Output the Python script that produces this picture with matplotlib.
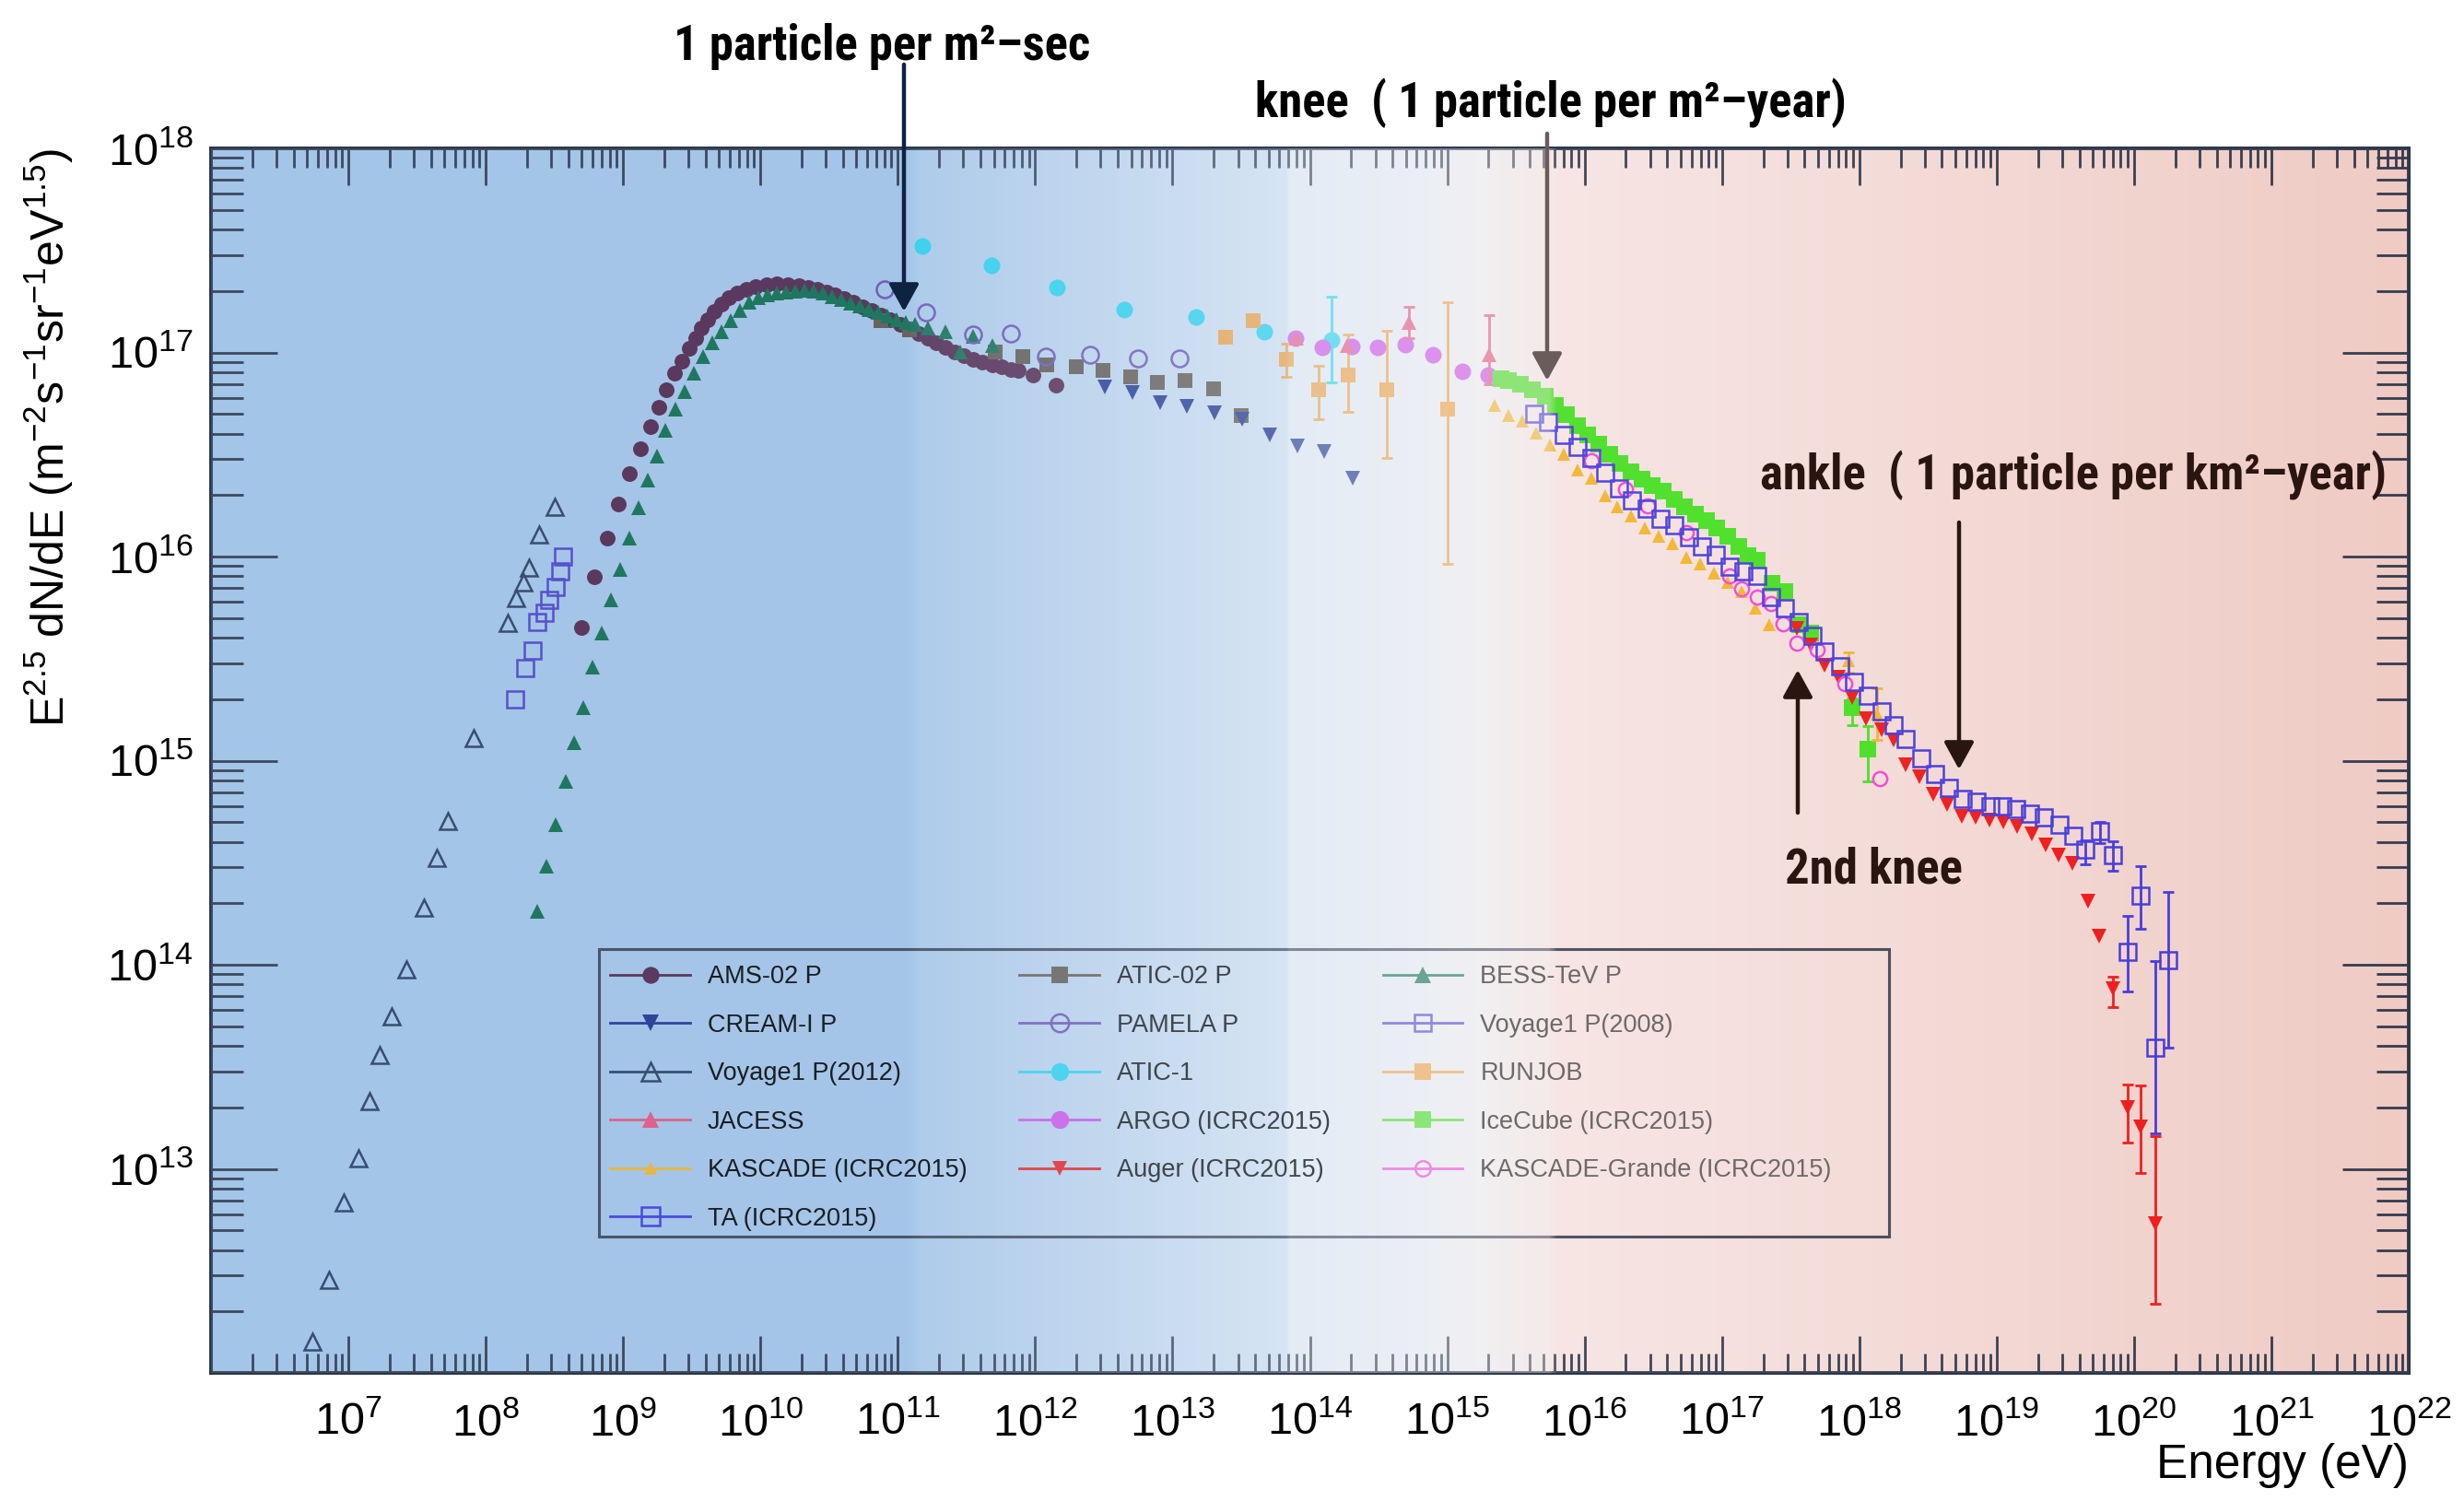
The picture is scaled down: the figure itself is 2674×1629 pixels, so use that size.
import numpy as np
import matplotlib
matplotlib.use('Agg')
import matplotlib.pyplot as plt
from matplotlib import font_manager
from matplotlib.lines import Line2D
from matplotlib.patches import FancyArrowPatch, Rectangle
from matplotlib.ticker import FixedLocator, FuncFormatter, NullFormatter

nan = np.nan

# values: log10(E / eV) and log10(E^2.5 dN/dE)
ams_e = [8.699, 8.792, 8.888, 8.966, 9.046, 9.124, 9.199, 9.259, 9.315, 9.375, 9.431, 9.483, 9.527,
         9.572, 9.617, 9.662, 9.718, 9.773, 9.829, 9.896, 9.963, 10.042, 10.120, 10.198, 10.277,
         10.344, 10.411, 10.478, 10.545, 10.612, 10.679, 10.746, 10.813, 10.880, 10.947, 11.015,
         11.082, 11.149, 11.216, 11.283, 11.350, 11.417, 11.484, 11.551, 11.618, 11.686, 11.753,
         11.820, 11.876, 11.987, 12.155]
ams_f = [15.651, 15.901, 16.091, 16.259, 16.405, 16.528, 16.638, 16.733, 16.816, 16.898, 16.959,
         17.019, 17.072, 17.120, 17.162, 17.200, 17.237, 17.267, 17.290, 17.309, 17.323, 17.332,
         17.335, 17.332, 17.327, 17.320, 17.309, 17.297, 17.282, 17.264, 17.245, 17.225, 17.204,
         17.184, 17.162, 17.139, 17.117, 17.094, 17.072, 17.049, 17.026, 17.004, 16.984, 16.966,
         16.951, 16.939, 16.929, 16.918, 16.914, 16.888, 16.841]

atic2_e = [10.880, 11.082, 11.708, 11.909, 12.088, 12.300, 12.491, 12.692, 12.893, 13.094, 13.296, 13.497]
atic2_f = [17.154, 17.109, 17.004, 16.981, 16.941, 16.932, 16.914, 16.879, 16.853, 16.861, 16.823, 16.691]

bess_e = [8.378, 8.443, 8.512, 8.580, 8.645, 8.710, 8.779, 8.844, 8.909, 8.981, 9.046, 9.111, 9.179,
          9.248, 9.310, 9.378, 9.445, 9.516, 9.583, 9.650, 9.717, 9.785, 9.852, 9.919, 9.986, 10.053,
          10.120, 10.187, 10.254, 10.321, 10.388, 10.455, 10.523, 10.590, 10.657, 10.724, 10.791,
          10.858, 10.925, 10.992, 11.059, 11.126, 11.216, 11.350, 11.451, 11.551, 11.686]
bess_f = [14.260, 14.485, 14.688, 14.900, 15.087, 15.258, 15.457, 15.625, 15.790, 15.939, 16.091,
          16.240, 16.373, 16.492, 16.620, 16.721, 16.808, 16.898, 16.981, 17.049, 17.102, 17.154,
          17.207, 17.245, 17.267, 17.282, 17.290, 17.297, 17.300, 17.305, 17.302, 17.290, 17.275,
          17.260, 17.242, 17.227, 17.210, 17.195, 17.177, 17.162, 17.147, 17.139, 17.120, 17.102,
          17.004, 17.079, 17.034]

cream_e = [12.506, 12.708, 12.909, 13.106, 13.307, 13.508, 13.709, 13.911, 14.107, 14.309]
cream_f = [16.830, 16.804, 16.755, 16.737, 16.703, 16.673, 16.597, 16.540, 16.515, 16.382]

pamela_e = [10.903, 11.205, 11.547, 11.824, 12.077, 12.399, 12.748, 13.050]
pamela_f = [17.309, 17.195, 17.090, 17.094, 16.981, 16.989, 16.969, 16.969]

voy08_e = [8.217, 8.289, 8.340, 8.378, 8.426, 8.463, 8.508, 8.542, 8.566]
voy08_f = [15.299, 15.454, 15.539, 15.679, 15.723, 15.787, 15.853, 15.926, 16.002]

voy12_e = [6.738, 6.858, 6.968, 7.074, 7.156, 7.231, 7.313, 7.423, 7.549, 7.645, 7.727, 7.912,
           8.162, 8.220, 8.275, 8.316, 8.391, 8.501]
voy12_f = [12.153, 12.454, 12.834, 13.050, 13.331, 13.556, 13.746, 13.978, 14.282, 14.523, 14.703,
           15.109, 15.676, 15.796, 15.875, 15.945, 16.107, 16.243]

atic1_e = [11.182, 11.681, 12.160, 12.650, 13.173, 13.665, 14.161]
atic1_f = [17.523, 17.425, 17.320, 17.212, 17.172, 17.102, 17.059]
atic1_lo = [nan, nan, nan, nan, nan, nan, 16.853]
atic1_hi = [nan, nan, nan, nan, nan, nan, 17.275]

runjob_e = [13.385, 13.587, 13.828, 14.067, 14.280, 14.559, 15.000]
runjob_f = [17.074, 17.157, 16.966, 16.816, 16.888, 16.816, 16.722]
runjob_lo = [nan, nan, 16.879, 16.673, 16.710, 16.485, 15.965]
runjob_hi = [nan, nan, 17.041, 16.936, 17.087, 17.105, 17.245]

jacee_e = [13.900, 14.275, 14.722, 15.308]
jacee_f = [17.071, 17.034, 17.147, 16.989]
jacee_lo = [nan, nan, 17.072, 16.846]
jacee_hi = [nan, nan, 17.222, 17.184]

argo_e = [13.895, 14.092, 14.307, 14.492, 14.693, 14.895, 15.107, 15.297]
argo_f = [17.068, 17.023, 17.029, 17.023, 17.039, 16.989, 16.906, 16.891]

ice_e = [15.390, 15.443, 15.532, 15.622, 15.711, 15.789, 15.868, 15.946, 16.024, 16.103, 16.181,
         16.259, 16.337, 16.416, 16.494, 16.572, 16.650, 16.729, 16.807, 16.885, 16.963, 17.042,
         17.120, 17.187, 17.254, 17.366, 17.455, 17.567, 17.646, 17.947, 18.059]
ice_f = [16.870, 16.861, 16.843, 16.816, 16.786, 16.740, 16.695, 16.643, 16.597, 16.552, 16.500,
         16.454, 16.417, 16.379, 16.349, 16.319, 16.281, 16.244, 16.206, 16.176, 16.138, 16.101,
         16.048, 16.003, 15.980, 15.868, 15.830, 15.664, 15.624, 15.258, 15.055]
ice_lo = [nan] * 29 + [15.175, 14.897]
ice_hi = [nan] * 29 + [15.303, 15.168]

kas_e = [15.342, 15.443, 15.543, 15.644, 15.745, 15.845, 15.946, 16.047, 16.147, 16.237, 16.337,
         16.438, 16.539, 16.639, 16.740, 16.840, 16.941, 17.042, 17.142, 17.243, 17.344, 17.920, 18.126]
kas_f = [16.740, 16.692, 16.662, 16.605, 16.545, 16.500, 16.424, 16.382, 16.297, 16.244, 16.199,
         16.138, 16.101, 16.063, 15.996, 15.965, 15.920, 15.875, 15.830, 15.747, 15.664, 15.491, 15.228]
kas_lo = [nan] * 21 + [15.431, 15.100]
kas_hi = [nan] * 21 + [15.529, 15.356]

auger_e = [17.545, 17.645, 17.746, 17.847, 17.947, 18.048, 18.160, 18.249, 18.339, 18.439, 18.540,
           18.641, 18.748, 18.849, 18.949, 19.050, 19.150, 19.256, 19.356, 19.452, 19.553, 19.665,
           19.743, 19.848, 19.956, 20.050, 20.157]
auger_f = [15.649, 15.567, 15.469, 15.409, 15.311, 15.206, 15.153, 15.100, 14.980, 14.920, 14.837,
           14.784, 14.727, 14.721, 14.709, 14.701, 14.679, 14.641, 14.589, 14.536, 14.495, 14.310,
           14.140, 13.881, 13.302, 13.204, 12.730]
auger_lo = [nan] * 23 + [13.794, 13.129, 12.978, 12.337]
auger_hi = [nan] * 23 + [13.941, 13.415, 13.407, 13.159]

kg_e = [16.047, 16.300, 16.460, 16.740, 17.053, 17.142, 17.254, 17.355, 17.444, 17.545, 17.690, 17.891, 18.149]
kg_f = [16.470, 16.330, 16.250, 16.116, 15.905, 15.840, 15.800, 15.770, 15.672, 15.574, 15.544, 15.379, 14.912]

ta_e = [15.633, 15.733, 15.845, 15.946, 16.047, 16.147, 16.248, 16.348, 16.449, 16.550, 16.650,
        16.762, 16.852, 16.952, 17.053, 17.154, 17.254, 17.355, 17.455, 17.556, 17.657, 17.746,
        17.858, 17.959, 18.059, 18.160, 18.249, 18.339, 18.451, 18.551, 18.652, 18.752, 18.853,
        18.954, 19.043, 19.144, 19.245, 19.345, 19.457, 19.558, 19.647, 19.752, 19.848, 19.956,
        20.050, 20.157, 20.251]
ta_f = [16.698, 16.658, 16.597, 16.537, 16.485, 16.409, 16.334, 16.274, 16.236, 16.184, 16.153,
        16.093, 16.048, 16.011, 15.950, 15.928, 15.905, 15.800, 15.747, 15.680, 15.612, 15.537,
        15.461, 15.386, 15.318, 15.243, 15.175, 15.108, 15.010, 14.935, 14.867, 14.814, 14.799,
        14.777, 14.777, 14.762, 14.739, 14.724, 14.686, 14.634, 14.566, 14.656, 14.536, 14.062,
        14.340, 13.592, 14.024]
ta_lo = [nan] * 40 + [14.491, 14.596, 14.461, 13.869, 14.175, 13.174, 13.592]
ta_hi = [nan] * 40 + [14.611, 14.701, 14.604, 14.239, 14.483, 14.017, 14.355]

# label, e, f, lo, hi, marker, color, filled, size  (drawing order)
series = [
    ('AMS-02 P', ams_e, ams_f, None, None, 'o', '#4f2046', True, 12.2),
    ('ATIC-02 P', atic2_e, atic2_f, None, None, 's', '#5e5348', True, 12),
    ('BESS-TeV P', bess_e, bess_f, None, None, '^', '#086a48', True, 12.2),
    ('CREAM-I P', cream_e, cream_f, None, None, 'v', '#1a2e8c', True, 12),
    ('PAMELA P', pamela_e, pamela_f, None, None, 'o', '#6a4cb0', False, 13),
    ('Voyage1 P(2008)', voy08_e, voy08_f, None, None, 's', '#4a3cc8', False, 12.5),
    ('Voyage1 P(2012)', voy12_e, voy12_f, None, None, '^', '#263a5a', False, 13.5),
    ('ATIC-1', atic1_e, atic1_f, atic1_lo, atic1_hi, 'o', '#22d4ee', True, 13),
    ('RUNJOB', runjob_e, runjob_f, runjob_lo, runjob_hi, 's', '#f0a040', True, 12),
    ('ARGO (ICRC2015)', argo_e, argo_f, None, None, 'o', '#d04ce8', True, 13),
    ('JACESS', jacee_e, jacee_f, jacee_lo, jacee_hi, '^', '#e8507c', True, 12),
    ('IceCube (ICRC2015)', ice_e, ice_f, ice_lo, ice_hi, 's', '#3ee01a', True, 12.5),
    ('KASCADE (ICRC2015)', kas_e, kas_f, kas_lo, kas_hi, '^', '#f2b424', True, 9.5),
    ('Auger (ICRC2015)', auger_e, auger_f, auger_lo, auger_hi, 'v', '#ee1111', True, 11),
    ('KASCADE-Grande (ICRC2015)', kg_e, kg_f, None, None, 'o', '#f040d8', False, 11),
    ('TA (ICRC2015)', ta_e, ta_f, ta_lo, ta_hi, 's', '#3c32dc', False, 13),
]
legend_cols = [['AMS-02 P', 'CREAM-I P', 'Voyage1 P(2012)', 'JACESS', 'KASCADE (ICRC2015)', 'TA (ICRC2015)'],
               ['ATIC-02 P', 'PAMELA P', 'ATIC-1', 'ARGO (ICRC2015)', 'Auger (ICRC2015)'],
               ['BESS-TeV P', 'Voyage1 P(2008)', 'RUNJOB', 'IceCube (ICRC2015)', 'KASCADE-Grande (ICRC2015)']]

# background band (axes fraction -> colour) and the tint laid over the plot
bg_stops = [0.0, 0.317, 0.323, 0.489, 0.491, 0.575, 0.609, 0.6126, 1.0]
bg_colors = [(163, 197, 231), (165, 198, 232), (175, 204, 235), (214, 228, 243), (226, 236, 246),
             (240, 240, 243), (244, 234, 233), (247, 230, 228), (239, 203, 196)]
ov_alpha = [0.15, 0.15, 0.22, 0.35, 0.42, 0.44, 0.45, 0.12, 0.06]


def pick_font(names):
    for name in names:
        try:
            font_manager.findfont(font_manager.FontProperties(family=name, weight='bold'),
                                  fallback_to_default=False)
            return name
        except ValueError:
            continue
    return 'Liberation Sans'


plt.rcParams['font.family'] = ['Liberation Sans', 'DejaVu Sans']
plt.rcParams['mathtext.fontset'] = 'custom'
plt.rcParams['mathtext.rm'] = 'Liberation Sans'
plt.rcParams['mathtext.it'] = 'Liberation Sans:italic'
plt.rcParams['mathtext.bf'] = 'Liberation Sans:bold'
cond_font = pick_font(['Roboto Condensed', 'Liberation Sans Narrow', 'Open Sans Condensed',
                       'DejaVu Sans Condensed', 'Noto Sans Condensed'])

W, H = 2674, 1629
L, R, T, B = 229, 2614, 161, 1490
fig = plt.figure(figsize=(W / 100, H / 100), dpi=100)
rect = [L / W, 1 - B / H, (R - L) / W, (B - T) / H]
bg = fig.add_axes(rect, zorder=0)
ax = fig.add_axes(rect, zorder=1)
ov = fig.add_axes(rect, zorder=2)

fx = np.linspace(0, 1, 1600)
rgb = np.stack([np.interp(fx, bg_stops, [c[i] for c in bg_colors]) for i in range(3)], axis=-1) / 255.0
bg.imshow(rgb[None, :, :], extent=(0, 1, 0, 1), aspect='auto', interpolation='bilinear')
bg.set_axis_off()
rgba = np.concatenate([rgb, np.interp(fx, bg_stops, ov_alpha)[:, None]], axis=-1)
ov.imshow(rgba[None, :, :], extent=(0, 1, 0, 1), aspect='auto', interpolation='bilinear')
ov.set_xlim(0, 1)
ov.set_ylim(0, 1)
ov.set_axis_off()
ov.patch.set_visible(False)
ax.patch.set_visible(False)


def tint(color, px):
    # colour as it looks under the overlay at picture column px
    f = (px - L) / (R - L)
    a = np.interp(f, bg_stops, ov_alpha)
    b = np.array([np.interp(f, bg_stops, [c[i] for c in bg_colors]) for i in range(3)]) / 255.0
    return tuple((1 - a) * np.array(matplotlib.colors.to_rgb(color)) + a * b)


styles = {}
for k, (label, e, f, lo, hi, marker, color, filled, size) in enumerate(series):
    x = 10 ** np.array(e)
    y = 10 ** np.array(f)
    z = 3 + k * 0.1
    if lo is not None:
        yerr = [y - 10 ** np.array(lo), 10 ** np.array(hi) - y]
        ax.errorbar(x, y, yerr=yerr, fmt='none', ecolor=color, elinewidth=2, capsize=4,
                    capthick=2, zorder=z)
    ax.plot(x, y, linestyle='none', marker=marker, ms=size, mec=color,
            mfc=color if filled else 'none', mew=0 if filled else 1.8, zorder=z)
    styles[label] = (marker, color, filled, size)

ax.set_xscale('log')
ax.set_yscale('log')
ax.set_xlim(1e6, 1e22)
ax.set_ylim(1e12, 1e18)

ax.xaxis.set_major_locator(FixedLocator([10.0 ** k for k in range(7, 23)]))
ax.yaxis.set_major_locator(FixedLocator([10.0 ** k for k in range(13, 19)]))
ax.xaxis.set_minor_locator(FixedLocator([m * 10.0 ** k for k in range(6, 22) for m in range(2, 10)]))
ax.yaxis.set_minor_locator(FixedLocator([m * 10.0 ** k for k in range(12, 18) for m in range(2, 10)]))
pow_fmt = FuncFormatter(lambda v, p: r'$\mathregular{10^{%d}}$' % round(np.log10(v)))
ax.xaxis.set_major_formatter(pow_fmt)
ax.yaxis.set_major_formatter(pow_fmt)
ax.xaxis.set_minor_formatter(NullFormatter())
ax.yaxis.set_minor_formatter(NullFormatter())

frame_col = '#2a3448'
ax.tick_params(which='both', direction='in', top=True, right=True, color=frame_col, width=2,
               labelcolor='black')
ax.tick_params(axis='x', which='major', length=29, pad=23, labelsize=35)
ax.tick_params(axis='x', which='minor', length=15)
ax.tick_params(axis='y', which='major', length=52, pad=14, labelsize=35)
ax.tick_params(axis='y', which='minor', length=25)
for sp in ax.spines.values():
    sp.set_color(frame_col)
    sp.set_linewidth(2.8)

ax.set_ylabel(r'E$^{2.5}$ dN/dE (m$^{-2}$s$^{-1}$sr$^{-1}$eV$^{1.5}$)', fontsize=36, loc='top')
ax.yaxis.set_label_coords(-0.0615, 1.0)
ax.set_xlabel('Energy (eV)', fontsize=37, loc='right')
ax.xaxis.set_label_coords(1.0, -0.057)

# legend: frame under the tint, entries drawn on top with the tint already applied
ax.add_patch(Rectangle((650 / W, 1 - 1342 / H), 1400 / W, 312 / H, transform=fig.transFigure,
                       facecolor='none', edgecolor='#3a4254', lw=2.2, zorder=10))
col_px = [708, 1156, 1546]
handles = []
text_cols = []
for names, cpx in zip(legend_cols, col_px):
    for n in names:
        marker, color, filled, size = styles[n]
        c = tint(color, cpx)
        handles.append(Line2D([], [], color=c, lw=2, marker=marker, ms=size + 1, mec=c,
                              mfc=c if filled else 'none', mew=0 if filled else 1.8, label=n))
        text_cols.append(tint('#000000', cpx + 120))
leg = ov.legend(handles=handles, ncol=3, loc='upper left',
                bbox_to_anchor=((650 - L) / (R - L), (B - 1035) / (B - T)),
                borderaxespad=0, fontsize=19.5, handlelength=3.2, handletextpad=0.7,
                columnspacing=2.1, labelspacing=0.98, borderpad=0.45, frameon=False)
for t, c in zip(leg.get_texts(), text_cols):
    t.set_color(c)


def fpos(px, py):
    return px / W, 1 - py / H


# annotations: (text, centre x, baseline y, colour) in picture pixels
notes = [
    ('1 particle per m\u00b2\u2013sec', 957, 65, '#000000'),
    ('knee  ( 1 particle per m\u00b2\u2013year)', 1683, 127, '#000000'),
    ('ankle  ( 1 particle per km\u00b2\u2013year)', 2250, 531, '#2a1510'),
    ('2nd knee', 2033, 958, '#2a1510'),
]
for txt, px, py, col in notes:
    fig.text(*fpos(px, py), txt, ha='center', va='baseline', fontsize=38, fontweight='bold',
             family=[cond_font, 'DejaVu Sans'], color=col, zorder=5)

arrows = [((981, 70), (981, 338), '#0d2340'),
          ((1679, 145), (1679, 413), '#6b5c5c'),
          ((2126, 567), (2126, 835), '#2a1510'),
          ((1951, 882), (1951, 727), '#2a1510')]
for (x0, y0), (x1, y1), col in arrows:
    arr = FancyArrowPatch(fpos(x0, y0), fpos(x1, y1), transform=fig.transFigure,
                          arrowstyle='-|>,head_length=0.4,head_width=0.22', mutation_scale=45,
                          lw=3.2, color=col, shrinkA=0, shrinkB=0, zorder=4)
    fig.add_artist(arr)

fig.savefig('out.png', dpi=100)
